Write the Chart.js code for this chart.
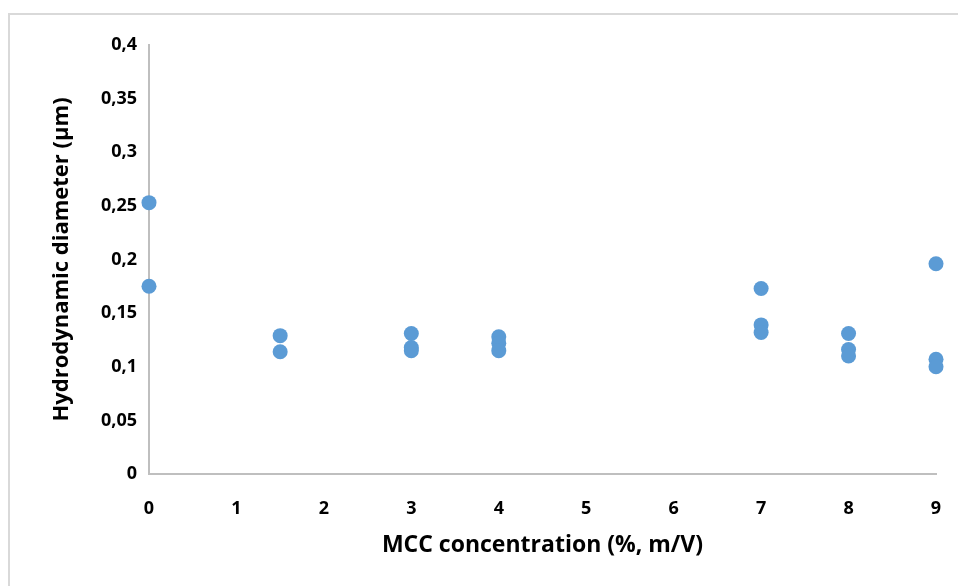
<!DOCTYPE html>
<html>
<head>
<meta charset="utf-8">
<script src="https://cdn.jsdelivr.net/npm/chart.js@4.4.1/dist/chart.umd.min.js"></script>
<style>
  html, body { margin: 0; padding: 0; background: #fff; }
  #frame {
    position: absolute; left: 8px; top: 13px;
    width: 980px; height: 600px;
    border: 2px solid #d9d9d9;
  }
  #wrap { position: absolute; left: 0; top: 0; width: 958px; height: 586px; }
</style>
</head>
<body>
<div id="frame"></div>
<div id="wrap"><canvas id="myChart"></canvas></div>
<script>
// MCC concentration (%, m/V) vs hydrodynamic diameter (µm)
const mccConc = [0, 0, 1.5, 1.5, 3, 3, 3, 4, 4, 4, 7, 7, 7, 8, 8, 8, 9, 9, 9];
const diameter = [0.253, 0.175, 0.129, 0.114, 0.131, 0.118, 0.115, 0.128, 0.122, 0.115,
                  0.173, 0.139, 0.132, 0.131, 0.116, 0.110, 0.196, 0.107, 0.100];
const yTickLabels = ['0', '0,05', '0,1', '0,15', '0,2', '0,25', '0,3', '0,35', '0,4'];
const xTickLabels = ['0', '1', '2', '3', '4', '5', '6', '7', '8', '9'];

const ctx = document.getElementById('myChart');
const fontFam = "'Open Sans', sans-serif";

const points = mccConc.map((x, i) => ({ x: x, y: diameter[i] }));

new Chart(ctx, {
    type: 'scatter',
    data: {
        datasets: [{
            label: 'Hydrodynamic diameter',
            data: points,
            backgroundColor: '#5b9bd5',
            borderWidth: 0,
            pointRadius: 7.5,
            pointHoverRadius: 7.5,
            clip: false
        }]
    },
    options: {
        animation: false,
        responsive: true,
        maintainAspectRatio: false,
        layout: { padding: { top: 45, right: 22, left: 0, bottom: 0 } },
        plugins: {
            legend: { display: false },
            tooltip: { enabled: false }
        },
        scales: {
            x: {
                type: 'linear',
                min: 0,
                max: 9,
                afterFit: (s) => {
                    s.height = 112;
                    s.paddingLeft = 0;
                    s.paddingRight = 0;
                },
                ticks: {
                    stepSize: 1,
                    padding: 24,
                    color: '#000',
                    font: { family: fontFam, size: 18, weight: 'bold' },
                    callback: (v, i) => xTickLabels[i]
                },
                grid: { color: 'transparent', drawTicks: false },
                border: { display: true, color: '#bfbfbf', width: 2 },
                title: {
                    display: true,
                    text: 'MCC concentration (%, m/V)',
                    color: '#000',
                    font: { family: fontFam, size: 23, weight: 'bold' },
                    padding: { top: 0, bottom: 27 }
                }
            },
            y: {
                min: 0,
                max: 0.4,
                afterFit: (s) => {
                    s.width = 149;
                    s.paddingTop = 0;
                    s.paddingBottom = 0;
                },
                ticks: {
                    stepSize: 0.05,
                    padding: 12,
                    color: '#000',
                    font: { family: fontFam, size: 18, weight: 'bold' },
                    callback: (v, i) => yTickLabels[i]
                },
                grid: { color: 'transparent', drawTicks: false },
                border: { display: true, color: '#bfbfbf', width: 2 },
                title: {
                    display: true,
                    text: 'Hydrodynamic diameter (µm)',
                    color: '#000',
                    font: { family: fontFam, size: 22, weight: 'bold' },
                    padding: { top: 49, bottom: 0 }
                }
            }
        }
    }
});
</script>
</body>
</html>
